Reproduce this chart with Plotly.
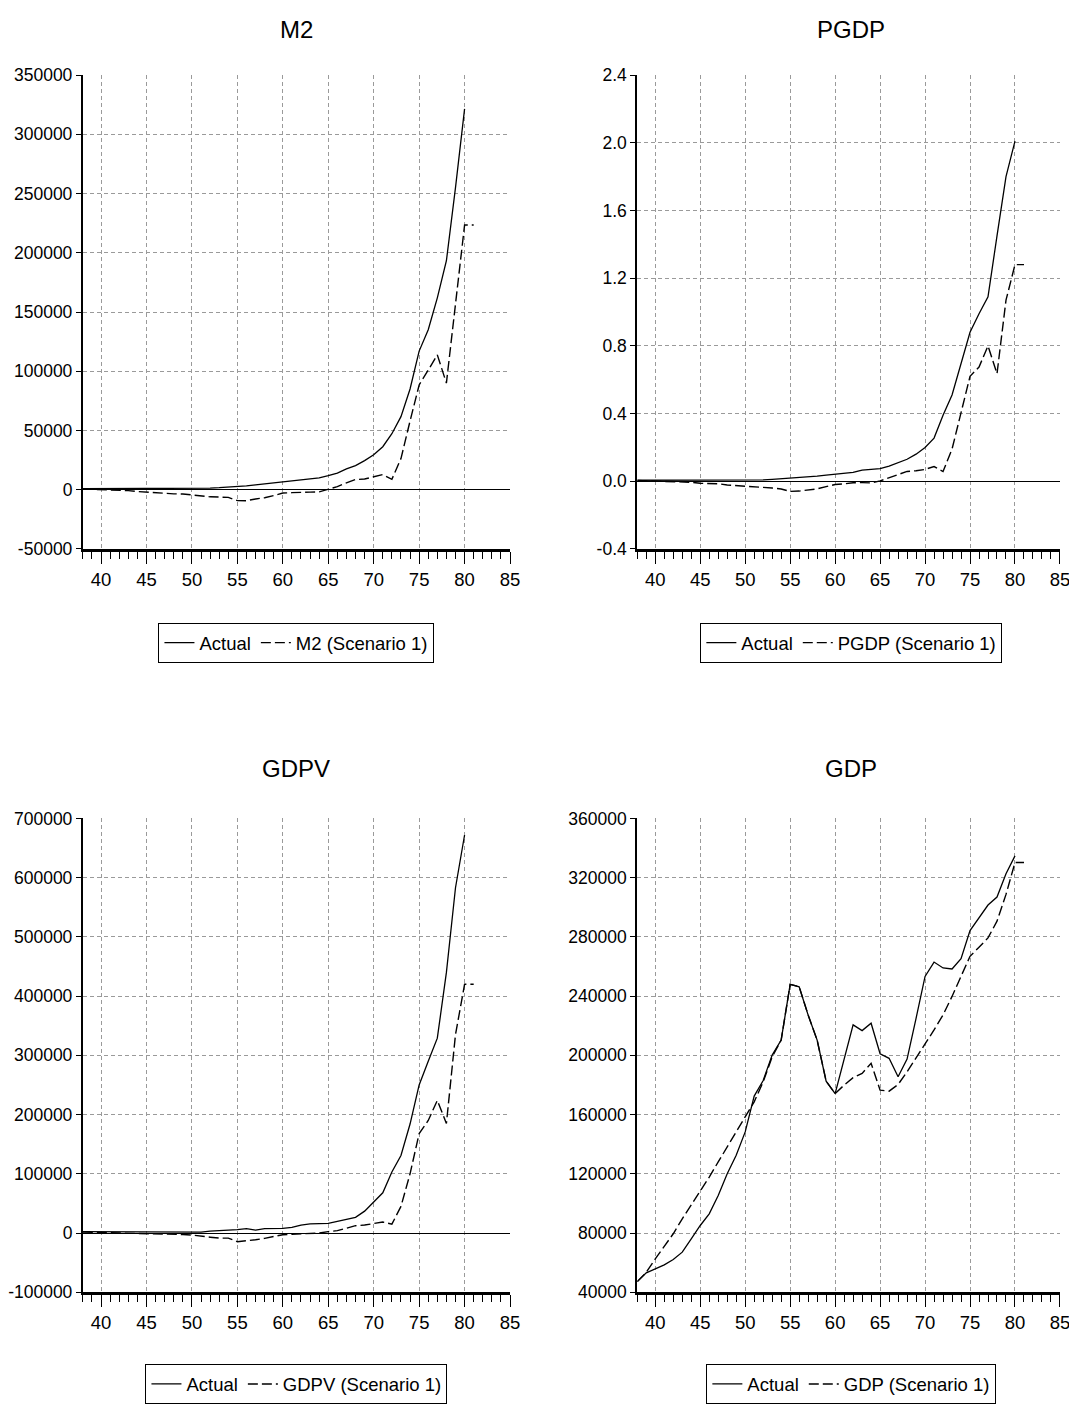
import plotly.graph_objects as go

# ---------------- data ----------------
years_actual = [38, 39, 40, 41, 42, 43, 44, 45, 46, 47, 48, 49, 50, 51, 52, 53, 54, 55, 56, 57, 58,
                59, 60, 61, 62, 63, 64, 65, 66, 67, 68, 69, 70, 71, 72, 73, 74, 75, 76, 77, 78, 79, 80]
years_scen = [38, 39, 40, 41, 42, 43, 44, 45, 46, 47, 48, 49, 50, 51, 52, 53, 54, 55, 56, 57, 58,
              59, 60, 61, 62, 63, 64, 65, 66, 67, 68, 69, 70, 71, 72, 73, 74, 75, 76, 77, 78, 79, 80, 81]

m2_actual = [800, 800, 850, 900, 900, 950, 1000, 1000, 1050, 1100, 1150, 1200, 1250, 1300, 1400,
             1700, 2000, 2400, 3200, 4000, 4900, 5800, 6600, 7400, 8200, 9000, 10000, 11800, 14000,
             17600, 20400, 24600, 29500, 36300, 47300, 61700, 85000, 117000, 135000, 162000,
             193300, 255000, 321500]
m2_scen = [700, 500, 300, 0, -400, -800, -1500, -2000, -2700, -3400, -3500, -3600, -4300, -5600,
           -6000, -6200, -6500, -9200, -9300, -7800, -6800, -5000, -2800, -2500, -2000, -2000,
           -1800, 300, 2600, 5800, 8600, 9000, 10800, 12800, 8800, 26300, 58000, 88400, 101000,
           113800, 90000, 155000, 223400, 223400]

pgdp_actual = [0.006, 0.006, 0.006, 0.006, 0.006, 0.006, 0.006, 0.006, 0.006, 0.006, 0.006, 0.006,
               0.006, 0.006, 0.008, 0.011, 0.014, 0.020, 0.021, 0.025, 0.030, 0.036, 0.043, 0.048,
               0.053, 0.066, 0.068, 0.074, 0.090, 0.110, 0.130, 0.160, 0.200, 0.255, 0.390, 0.510,
               0.700, 0.880, 0.990, 1.090, 1.450, 1.800, 2.010]
pgdp_scen = [0.004, 0.003, 0.002, 0.001, 0.000, -0.003, -0.006, -0.012, -0.013, -0.015, -0.022,
             -0.025, -0.032, -0.034, -0.035, -0.040, -0.046, -0.060, -0.058, -0.051, -0.045,
             -0.032, -0.019, -0.015, -0.009, -0.008, -0.010, 0.002, 0.020, 0.040, 0.058, 0.062,
             0.070, 0.087, 0.057, 0.190, 0.400, 0.620, 0.675, 0.800, 0.635, 1.070, 1.280, 1.280]

gdpv_actual = [2300, 2200, 2000, 1900, 1800, 1700, 1600, 1500, 1400, 1400, 1300, 1300, 1300, 1600,
               3400, 3800, 4000, 5600, 7300, 5000, 7300, 7000, 7900, 9600, 13500, 15500, 16000,
               16300, 19500, 22500, 26500, 37000, 53000, 68000, 103000, 131000, 184000, 250000,
               290000, 329000, 440000, 583000, 672000]
gdpv_scen = [1500, 1200, 1000, 500, 0, -300, -500, -700, -1000, -1500, -2000, -2500, -3400, -5600,
             -7000, -8500, -8500, -14600, -13500, -11300, -9000, -5600, -2800, -2000, -1500, -1700,
             0, 2300, 4000, 8000, 12400, 13500, 16300, 18600, 15000, 45000, 100000, 168000, 190000,
             224000, 185000, 335000, 420000, 420000]

gdp_actual = [47200, 53100, 55800, 58500, 62100, 67100, 76100, 85100, 93000, 105400, 120100, 132500,
              148300, 172500, 183000, 200200, 210300, 248000, 246300, 227200, 210300, 182600,
              174200, 197000, 220600, 216700, 221700, 201100, 198000, 185500, 197500, 225000,
              253300, 263000, 259000, 258300, 265300, 284300, 293300, 301500, 306900, 322700, 334700]
gdp_scen = [47200, 53500, 62500, 71000, 79500, 89600, 99000, 107700, 117800, 128000, 138100, 148300,
            158400, 168600, 182100, 199000, 210300, 248000, 246400, 227200, 210300, 182600, 174200,
            179900, 184900, 187800, 194600, 176500, 175800, 180300, 188900, 198000, 207700, 217200,
            227300, 239800, 253300, 266900, 273000, 279300, 290600, 308700, 330200, 330200]

titles = ["M2", "PGDP", "GDPV", "GDP"]
scen_names = ["M2 (Scenario 1)", "PGDP (Scenario 1)", "GDPV (Scenario 1)", "GDP (Scenario 1)"]

m2_ticks = [-50000, 0, 50000, 100000, 150000, 200000, 250000, 300000, 350000]
m2_labels = ["-50000", "0", "50000", "100000", "150000", "200000", "250000", "300000", "350000"]
pgdp_ticks = [-0.4, 0.0, 0.4, 0.8, 1.2, 1.6, 2.0, 2.4]
pgdp_labels = ["-0.4", "0.0", "0.4", "0.8", "1.2", "1.6", "2.0", "2.4"]
gdpv_ticks = [-100000, 0, 100000, 200000, 300000, 400000, 500000, 600000, 700000]
gdpv_labels = ["-100000", "0", "100000", "200000", "300000", "400000", "500000", "600000", "700000"]
gdp_ticks = [40000, 80000, 120000, 160000, 200000, 240000, 280000, 320000, 360000]
gdp_labels = ["40000", "80000", "120000", "160000", "200000", "240000", "280000", "320000", "360000"]

x_ticks = [40, 45, 50, 55, 60, 65, 70, 75, 80, 85]
x_labels = ["40", "45", "50", "55", "60", "65", "70", "75", "80", "85"]

# ---------------- layout ----------------
W, H = 1077, 1404
FONT = "Liberation Sans Narrow, Arial Narrow, Liberation Sans, Arial, sans-serif"

# compensation for how the page is photographed (page is scaled slightly / offset)
AX, BX = 0.988, 10.0
AY, BY = 0.984, 18.0


def fx(px):
    return (px - BX) / AX / W


def fy(py):
    return 1 - (py - BY) / AY / H


panels = [
    dict(actual=m2_actual, scen=m2_scen, ticks=m2_ticks, labels=m2_labels,
         rng=[-50000, 350000], xd=[80, 508], yd=[75, 548], leg=(294, 642), title_y=29),
    dict(actual=pgdp_actual, scen=pgdp_scen, ticks=pgdp_ticks, labels=pgdp_labels,
         rng=[-0.4, 2.4], xd=[635.5, 1059], yd=[75, 548], leg=(850, 642), title_y=29),
    dict(actual=gdpv_actual, scen=gdpv_scen, ticks=gdpv_ticks, labels=gdpv_labels,
         rng=[-100000, 700000], xd=[80, 508], yd=[817, 1290], leg=(294, 1382), title_y=767),
    dict(actual=gdp_actual, scen=gdp_scen, ticks=gdp_ticks, labels=gdp_labels,
         rng=[40000, 360000], xd=[635.5, 1059], yd=[817, 1290], leg=(850, 1382), title_y=767),
]

fig = go.Figure()
layout = dict(width=W, height=H, margin=dict(l=0, r=0, t=0, b=0),
              paper_bgcolor="white", plot_bgcolor="white", showlegend=True,
              font=dict(family=FONT, color="black"))
annotations = []
grid_col = "#9a9a9a"

for i, p in enumerate(panels):
    s = "" if i == 0 else str(i + 1)
    leg = "legend" + s
    fig.add_trace(go.Scatter(x=years_actual, y=p["actual"], mode="lines", name="Actual",
                             line=dict(color="black", width=1.3),
                             xaxis="x" + s, yaxis="y" + s, legend=leg))
    fig.add_trace(go.Scatter(x=years_scen, y=p["scen"], mode="lines", name=scen_names[i],
                             line=dict(color="black", width=1.4, dash="10px,4px"),
                             xaxis="x" + s, yaxis="y" + s, legend=leg))
    xdom = [fx(p["xd"][0]), fx(p["xd"][1])]
    ydom = [fy(p["yd"][1]), fy(p["yd"][0])]
    layout["xaxis" + s] = dict(
        domain=xdom, range=[38, 85], anchor="y" + s,
        tickmode="array", tickvals=x_ticks, ticktext=x_labels,
        ticks="outside", ticklen=12, tickwidth=1.2, tickcolor="black",
        showline=True, linewidth=3, linecolor="black",
        showgrid=True, gridcolor=grid_col, gridwidth=1, griddash="4px,3px",
        zeroline=False, tickfont=dict(size=18.5, family=FONT, color="black"),
        minor=dict(dtick=1, tick0=38, ticks="outside", ticklen=7, tickwidth=1,
                   tickcolor="black", showgrid=False),
        fixedrange=True)
    layout["yaxis" + s] = dict(
        domain=ydom, range=p["rng"], anchor="x" + s,
        tickmode="array", tickvals=p["ticks"], ticktext=p["labels"],
        ticks="outside", ticklen=5, tickwidth=1, tickcolor="black",
        showline=True, linewidth=2, linecolor="black",
        showgrid=True, gridcolor=grid_col, gridwidth=1, griddash="4px,3px",
        zeroline=True, zerolinecolor="black", zerolinewidth=1,
        tickfont=dict(size=17.5, family=FONT, color="black"), fixedrange=True)
    layout[leg] = dict(
        x=fx(p["leg"][0]), y=fy(p["leg"][1]), xref="paper", yref="paper",
        xanchor="center", yanchor="middle", orientation="h",
        bordercolor="black", borderwidth=1, bgcolor="white",
        font=dict(size=18.5, family=FONT, color="black"))
    annotations.append(dict(text=titles[i], x=(fx(80 if i % 2 == 0 else 635.5) + fx(508 if i % 2 == 0 else 1063)) / 2,
                            y=fy(p["title_y"]),
                            xref="paper", yref="paper", xanchor="center", yanchor="middle",
                            showarrow=False, font=dict(size=24, family=FONT, color="black")))

layout["annotations"] = annotations
fig.update_layout(**layout)
fig.write_html("out.html")
